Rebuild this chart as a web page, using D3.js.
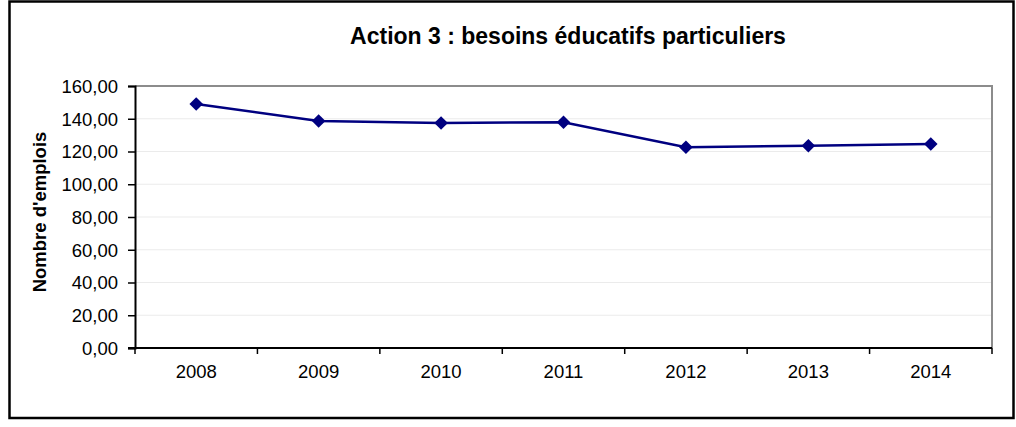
<!DOCTYPE html>
<html>
<head>
<meta charset="utf-8">
<script src="https://cdn.jsdelivr.net/npm/d3@7"></script>
<style>
  body { margin: 0; background: #fff; }
  text { font-family: "Liberation Sans", Arial, sans-serif; fill: #000; }
</style>
</head>
<body>
<div id="chart"></div>
<script>
// data
var years = ["2008", "2009", "2010", "2011", "2012", "2013", "2014"];
var emplois = [149.0, 138.6, 137.4, 137.9, 122.6, 123.5, 124.6];
var yTicks = [0, 20, 40, 60, 80, 100, 120, 140, 160];

var W = 1016, H = 427;
var margin = {top: 86, right: 24, bottom: 79, left: 135},
    width = W - margin.left - margin.right,
    height = H - margin.top - margin.bottom;

var svg = d3.select("#chart").append("svg")
    .attr("width", W)
    .attr("height", H);

// outer frame
svg.append("rect")
    .attr("x", 9.5).attr("y", 1.5)
    .attr("width", 1004).attr("height", 416.5)
    .attr("fill", "#fff")
    .attr("stroke", "#000")
    .attr("stroke-width", 2.5);

svg.append("text")
    .attr("x", 568).attr("y", 44)
    .style("text-anchor", "middle")
    .style("font-size", "23px")
    .style("font-weight", "bold")
    .text("Action 3 : besoins éducatifs particuliers");

var g = svg.append("g")
    .attr("transform", "translate(" + margin.left + "," + margin.top + ")");

var x = d3.scaleBand().domain(years).range([0, width]);
var y = d3.scaleLinear().domain([0, 160]).range([height, 0]);

// gridlines
g.selectAll(".grid")
    .data(yTicks.filter(function(d) { return d > 0 && d < 160; }))
    .enter().append("line")
    .attr("x1", 0).attr("x2", width)
    .attr("y1", function(d) { return y(d); })
    .attr("y2", function(d) { return y(d); })
    .attr("stroke", "#ebebeb")
    .attr("stroke-width", 1.2);

// top & right border (gray)
g.append("path")
    .attr("d", "M0," + y(160) + "H" + width + "V" + height)
    .attr("fill", "none")
    .attr("stroke", "#8c8c8c")
    .attr("stroke-width", 2);

// y axis
var yAxis = g.append("g")
    .call(d3.axisLeft(y).tickValues(yTicks).tickSize(7).tickPadding(10)
        .tickFormat(function(d) { return d3.format(".2f")(d).replace(".", ","); }));
yAxis.select(".domain").attr("stroke", "#000").attr("stroke-width", 2);
yAxis.selectAll(".tick line").attr("stroke", "#000").attr("stroke-width", 1.5);
yAxis.selectAll("text").style("font-size", "18.5px").attr("dy", "0.35em");

// x axis : ticks at category boundaries
var xAxis = g.append("g").attr("transform", "translate(0," + height + ")");
xAxis.append("line")
    .attr("x1", -7).attr("x2", width)
    .attr("stroke", "#000").attr("stroke-width", 2);
xAxis.selectAll(".xt")
    .data(d3.range(years.length + 1))
    .enter().append("line")
    .attr("x1", function(i) { return i * x.step(); })
    .attr("x2", function(i) { return i * x.step(); })
    .attr("y1", 0).attr("y2", 6)
    .attr("stroke", "#000").attr("stroke-width", 1.5);
xAxis.selectAll(".xl")
    .data(years)
    .enter().append("text")
    .attr("x", function(d) { return x(d) + x.bandwidth() / 2; })
    .attr("y", 30)
    .style("text-anchor", "middle")
    .style("font-size", "18.5px")
    .text(function(d) { return d; });

// y label
svg.append("text")
    .attr("transform", "translate(46,212) rotate(-90)")
    .style("text-anchor", "middle")
    .style("font-size", "18.5px")
    .style("font-weight", "bold")
    .text("Nombre d'emplois");

// line + markers
var pts = years.map(function(d, i) { return {year: d, v: emplois[i]}; });
var line = d3.line()
    .x(function(d) { return x(d.year) + x.bandwidth() / 2; })
    .y(function(d) { return y(d.v); });

g.append("path")
    .datum(pts)
    .attr("d", line)
    .attr("fill", "none")
    .attr("stroke", "#000080")
    .attr("stroke-width", 2.5);

g.selectAll(".pt")
    .data(pts)
    .enter().append("path")
    .attr("transform", function(d) {
        return "translate(" + (x(d.year) + x.bandwidth() / 2) + "," + y(d.v) + ")";
    })
    .attr("d", "M0,-6.8L6.8,0L0,6.8L-6.8,0Z")
    .attr("fill", "#000080");
</script>
</body>
</html>
